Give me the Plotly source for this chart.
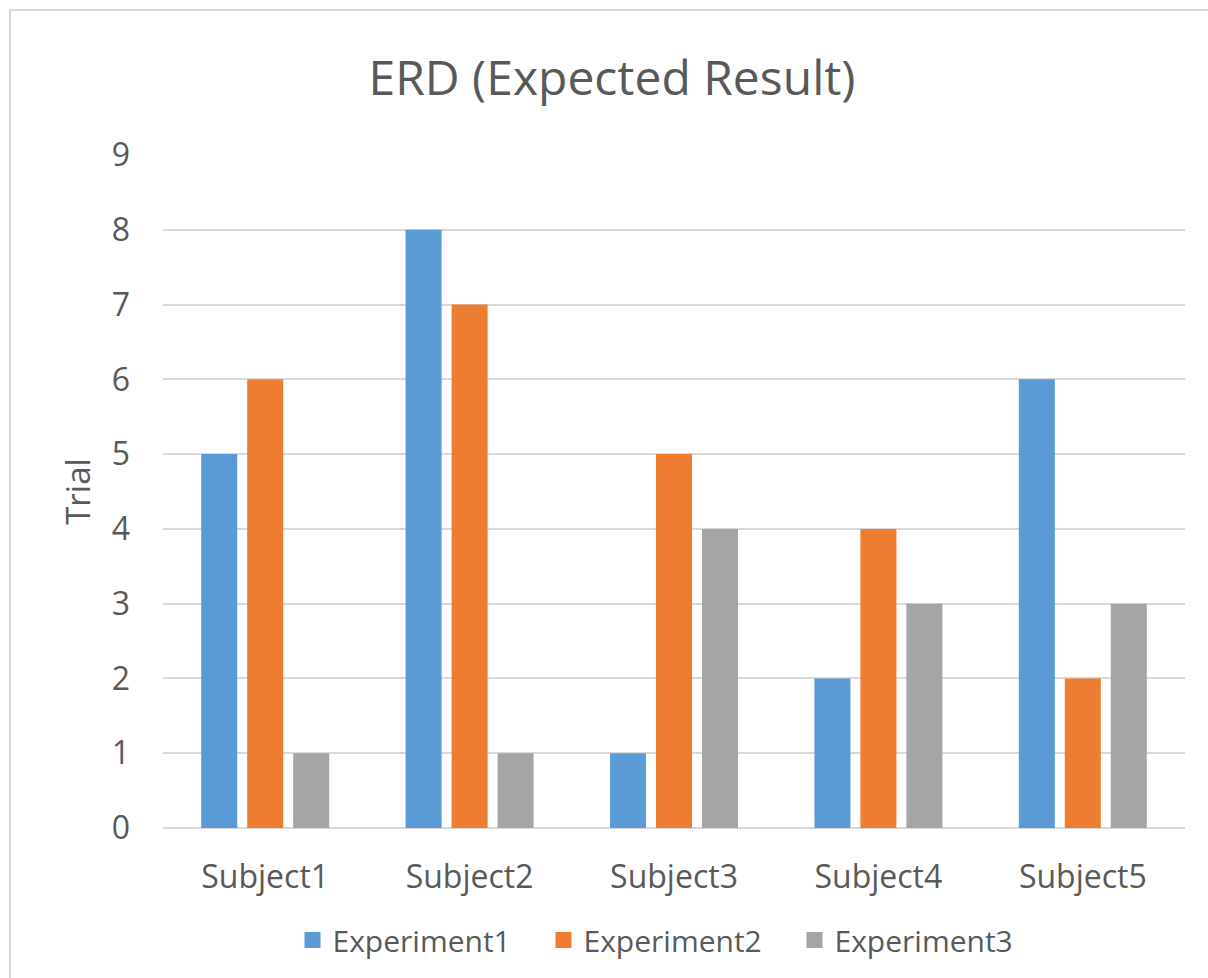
import plotly.graph_objects as go

# Trial counts per subject for each experiment
subjects = ["Subject1", "Subject2", "Subject3", "Subject4", "Subject5"]
experiment1 = [5, 8, 1, 2, 6]
experiment2 = [6, 7, 5, 4, 2]
experiment3 = [1, 1, 4, 3, 3]

series_names = ["Experiment1", "Experiment2", "Experiment3"]
series_values = [experiment1, experiment2, experiment3]
series_colors = ["#5B9BD5", "#ED7D31", "#A5A5A5"]

TEXT = "#595959"
GRID = "#D9D9D9"
FONT = "Open Sans, Noto Sans, sans-serif"

fig = go.Figure()
for name, vals, color in zip(series_names, series_values, series_colors):
    fig.add_trace(go.Bar(x=subjects, y=vals, name=name, showlegend=False,
                         marker=dict(color=color, line=dict(width=0))))
    # legend entry drawn with a larger square swatch
    fig.add_trace(go.Scatter(x=[None], y=[None], mode="markers", name=name,
                             marker=dict(symbol="square", size=16, color=color),
                             showlegend=True))

W, H = 1208, 978
L, R, T, B = 163, 23, 155, 150
pw, ph = W - L - R, H - T - B

def px_x(p):
    return (p - L) / pw

def px_y(p):
    return (H - B - p) / ph

fig.update_layout(
    width=W, height=H,
    margin=dict(l=L, r=R, t=T, b=B, pad=0),
    paper_bgcolor="white", plot_bgcolor="white",
    font=dict(family=FONT, color=TEXT, size=33),
    barmode="group", bargap=0.325, bargroupgap=0.217,
    title=dict(text="ERD (Expected Result)", x=612 / W, xanchor="center",
               y=1 - 78 / H, yanchor="middle", yref="container",
               font=dict(size=48, color=TEXT, family=FONT)),
    xaxis=dict(showgrid=False, showline=False, zeroline=False,
               ticks="", ticklabelstandoff=27,
               tickfont=dict(size=32, color=TEXT)),
    yaxis=dict(range=[0, 9], dtick=1, tick0=0, showgrid=True,
               gridcolor=GRID, gridwidth=1.5, zeroline=True,
               zerolinecolor=GRID, zerolinewidth=2, showline=False,
               ticks="", ticklabelstandoff=32,
               tickfont=dict(size=32, color=TEXT),
               title=dict(text="Trial", standoff=11,
                          font=dict(size=33, color=TEXT))),
    legend=dict(orientation="h", x=px_x(669), xanchor="center",
                y=px_y(940), yanchor="middle",
                font=dict(size=30, color=TEXT),
                itemwidth=30, entrywidth=206, entrywidthmode="pixels",
                bgcolor="rgba(0,0,0,0)", traceorder="normal"),
    showlegend=True,
)

# Chart area border
fig.add_shape(type="rect", xref="paper", yref="paper",
              x0=px_x(10), x1=px_x(1240), y0=px_y(1010), y1=px_y(10),
              line=dict(color=GRID, width=2), fillcolor="rgba(0,0,0,0)",
              layer="below")

fig.write_html("out.html")
